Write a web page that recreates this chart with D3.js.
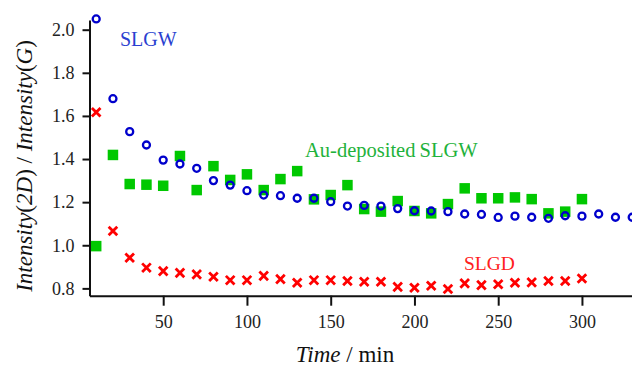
<!DOCTYPE html>
<html>
<head>
<meta charset="utf-8">
<script src="https://cdn.jsdelivr.net/npm/d3@7"></script>
<style>
	html, body { margin: 0; padding: 0; background: #fff; }
	svg { display: block; }
	svg text { font-family: 'Liberation Serif', 'DejaVu Serif', Times, serif; }
</style>
</head>
<body>
<svg id="chart" width="632" height="365"></svg>
<script>
// minutes
const timesGW = [10, 20, 30, 40, 50, 60, 70, 80, 90, 100, 110, 120, 130, 140, 150, 160, 170, 180, 190, 200, 210, 220, 230, 240, 250, 260, 270, 280, 290, 300, 310, 320, 330];
const times = [10, 20, 30, 40, 50, 60, 70, 80, 90, 100, 110, 120, 130, 140, 150, 160, 170, 180, 190, 200, 210, 220, 230, 240, 250, 260, 270, 280, 290, 300];

const slgw = [2.05, 1.68, 1.527, 1.465, 1.395, 1.377, 1.357, 1.30, 1.279, 1.253, 1.233, 1.23, 1.218, 1.218, 1.202, 1.182, 1.185, 1.182, 1.17, 1.16, 1.159, 1.156, 1.145, 1.143, 1.129, 1.135, 1.13, 1.125, 1.137, 1.135, 1.145, 1.13, 1.13];
const auSlgw = [0.996, 1.419, 1.284, 1.281, 1.276, 1.414, 1.256, 1.367, 1.303, 1.329, 1.256, 1.307, 1.344, 1.213, 1.233, 1.279, 1.168, 1.156, 1.205, 1.159, 1.148, 1.191, 1.264, 1.218, 1.218, 1.222, 1.214, 1.148, 1.156, 1.214];
const slgd = [1.617, 1.066, 0.942, 0.896, 0.880, 0.872, 0.865, 0.854, 0.838, 0.838, 0.858, 0.843, 0.826, 0.838, 0.838, 0.834, 0.831, 0.831, 0.807, 0.803, 0.812, 0.797, 0.823, 0.815, 0.819, 0.826, 0.828, 0.834, 0.834, 0.846];

const xTicks = [50, 100, 150, 200, 250, 300];
const yTicks = [0.8, 1.0, 1.2, 1.4, 1.6, 1.8, 2.0];

const svg = d3.select('#chart');

const x = d3.scaleLinear().domain([6, 330]).range([89.5, 632.2]);
const y = d3.scaleLinear().domain([0.766, 2.045]).range([295.7, 20]);

const styleAxis = g => {
	g.attr('font-family', null).attr('font-size', 18);
	g.select('.domain').attr('stroke', '#111').attr('stroke-width', 2);
	g.selectAll('.tick line').attr('stroke', '#111').attr('stroke-width', 2);
	g.selectAll('.tick text').attr('fill', '#222');
};

svg.append('g')
	.attr('transform', 'translate(0,295.7)')
	.call(d3.axisBottom(x).tickValues(xTicks).tickSize(10).tickSizeOuter(0).tickPadding(10).tickFormat(d3.format('d')))
	.call(styleAxis);

svg.append('g')
	.attr('transform', 'translate(89.5,0)')
	.call(d3.axisLeft(y).tickValues(yTicks).tickSize(7).tickSizeOuter(0).tickPadding(8).tickFormat(d3.format('.1f')))
	.call(styleAxis);

// green squares first, blue circles drawn over them
const sq = 10.5;
svg.append('g')
	.selectAll('rect')
	.data(times.map((t, i) => ({t, v: auSlgw[i]})))
	.join('rect')
	.attr('x', d => x(d.t) - sq / 2)
	.attr('y', d => y(d.v) - sq / 2)
	.attr('width', sq)
	.attr('height', sq)
	.attr('fill', '#00c800');

svg.append('g')
	.selectAll('circle')
	.data(timesGW.map((t, i) => ({t, v: slgw[i]})))
	.join('circle')
	.attr('cx', d => x(d.t))
	.attr('cy', d => y(d.v))
	.attr('r', 3.5)
	.attr('fill', 'none')
	.attr('stroke', '#0000cc')
	.attr('stroke-width', 2.3);

const cr = 4.3;
svg.append('g')
	.selectAll('path')
	.data(times.map((t, i) => ({t, v: slgd[i]})))
	.join('path')
	.attr('transform', d => `translate(${x(d.t)},${y(d.v)})`)
	.attr('d', `M${-cr},${-cr}L${cr},${cr}M${-cr},${cr}L${cr},${-cr}`)
	.attr('stroke', '#ff0000')
	.attr('stroke-width', 2.8)
	.attr('fill', 'none');

// series labels
const labels = [
	{text: 'SLGW', x: 120, y: 45.7, size: 20, color: '#2a3fd0'},
	{text: 'Au-deposited\u2009SLGW', x: 305, y: 156.7, size: 20.5, color: '#1fb23c'},
	{text: 'SLGD', x: 464, y: 269.5, size: 19.5, color: '#ff2020'},
];
svg.append('g')
	.selectAll('text')
	.data(labels)
	.join('text')
	.attr('x', d => d.x)
	.attr('y', d => d.y)
	.attr('font-size', d => d.size)
	.attr('fill', d => d.color)
	.text(d => d.text);

// axis titles
const xTitle = svg.append('text')
	.attr('x', 345)
	.attr('y', 361.5)
	.attr('text-anchor', 'middle')
	.attr('font-size', 23)
	.attr('fill', '#111');
xTitle.append('tspan').attr('font-style', 'italic').text('Time');
xTitle.append('tspan').text(' / min');

const yTitle = svg.append('text')
	.attr('transform', 'translate(32,166) rotate(-90)')
	.attr('text-anchor', 'middle')
	.attr('font-size', 23)
	.attr('fill', '#111');
yTitle.append('tspan').attr('font-style', 'italic').text('Intensity');
yTitle.append('tspan').text('(');
yTitle.append('tspan').attr('font-style', 'italic').text('2D');
yTitle.append('tspan').text(') / ');
yTitle.append('tspan').attr('font-style', 'italic').text('Intensity');
yTitle.append('tspan').text('(');
yTitle.append('tspan').attr('font-style', 'italic').text('G');
yTitle.append('tspan').text(')');
</script>
</body>
</html>
